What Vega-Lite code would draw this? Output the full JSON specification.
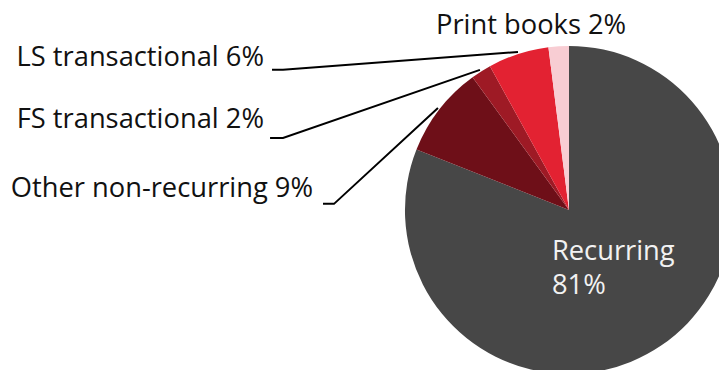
{
  "$schema": "https://vega.github.io/schema/vega-lite/v6.json",
  "width": 719,
  "height": 370,
  "autosize": {"type": "none"},
  "padding": 0,
  "background": "#ffffff",
  "view": {"stroke": null},
  "config": {"font": "Open Sans"},
  "datasets": {
    "slices": [
      {"segment": "Recurring", "share": 81, "ord": 1},
      {"segment": "Other non-recurring", "share": 9, "ord": 2},
      {"segment": "FS transactional", "share": 2, "ord": 3},
      {"segment": "LS transactional", "share": 6, "ord": 4},
      {"segment": "Print books", "share": 2, "ord": 5}
    ],
    "labels": [
      {"label": "LS transactional 6%", "u": -1.86, "v": 0.878, "side": "outside"},
      {"label": "FS transactional 2%", "u": -1.86, "v": 0.5, "side": "outside"},
      {"label": "Other non-recurring 9%", "u": -1.561, "v": 0.079, "side": "outside"},
      {"label": "Print books 2%", "u": -0.811, "v": 1.073, "side": "top"},
      {"label": "Recurring", "u": -0.104, "v": -0.305, "side": "inside"},
      {"label": "81%", "u": -0.104, "v": -0.512, "side": "inside"}
    ],
    "leaders": [
      {"id": "LS", "seq": 1, "u": -1.811, "v": 0.854},
      {"id": "LS", "seq": 2, "u": -1.744, "v": 0.854},
      {"id": "LS", "seq": 3, "u": -0.311, "v": 0.963},
      {"id": "FS", "seq": 1, "u": -1.823, "v": 0.439},
      {"id": "FS", "seq": 2, "u": -1.744, "v": 0.439},
      {"id": "FS", "seq": 3, "u": -0.543, "v": 0.854},
      {"id": "Other", "seq": 1, "u": -1.5, "v": 0.037},
      {"id": "Other", "seq": 2, "u": -1.433, "v": 0.037},
      {"id": "Other", "seq": 3, "u": -0.799, "v": 0.622}
    ]
  },
  "layer": [
    {
      "data": {"name": "slices"},
      "mark": {"type": "arc", "radius": 164},
      "encoding": {
        "x": {"datum": 0, "type": "quantitative", "scale": {"domain": [-3.47, 0.915], "nice": false, "zero": false}, "axis": null},
        "y": {"datum": 0, "type": "quantitative", "scale": {"domain": [-0.976, 1.28], "nice": false, "zero": false}, "axis": null},
        "theta": {"field": "share", "type": "quantitative", "stack": true},
        "order": {"field": "ord", "type": "quantitative"},
        "color": {
          "field": "segment",
          "type": "nominal",
          "legend": null,
          "scale": {
            "domain": ["Recurring", "Other non-recurring", "FS transactional", "LS transactional", "Print books"],
            "range": ["#474747", "#6e0f18", "#9e1a25", "#e32232", "#f8cdd3"]
          }
        }
      }
    },
    {
      "data": {"name": "leaders"},
      "mark": {"type": "line", "color": "#000000", "strokeWidth": 2},
      "encoding": {
        "x": {"field": "u", "type": "quantitative", "scale": {"domain": [-3.47, 0.915], "nice": false, "zero": false}, "axis": null},
        "y": {"field": "v", "type": "quantitative", "scale": {"domain": [-0.976, 1.28], "nice": false, "zero": false}, "axis": null},
        "detail": {"field": "id", "type": "nominal"},
        "order": {"field": "seq", "type": "quantitative"}
      }
    },
    {
      "data": {"name": "labels"},
      "transform": [{"filter": "datum.side === 'outside'"}],
      "mark": {"type": "text", "align": "right", "baseline": "alphabetic", "fontSize": 27.3, "color": "#111111"},
      "encoding": {
        "x": {"field": "u", "type": "quantitative", "scale": {"domain": [-3.47, 0.915], "nice": false, "zero": false}, "axis": null},
        "y": {"field": "v", "type": "quantitative", "scale": {"domain": [-0.976, 1.28], "nice": false, "zero": false}, "axis": null},
        "text": {"field": "label"}
      }
    },
    {
      "data": {"name": "labels"},
      "transform": [{"filter": "datum.side === 'top'"}],
      "mark": {"type": "text", "align": "left", "baseline": "alphabetic", "fontSize": 27.3, "color": "#111111"},
      "encoding": {
        "x": {"field": "u", "type": "quantitative", "scale": {"domain": [-3.47, 0.915], "nice": false, "zero": false}, "axis": null},
        "y": {"field": "v", "type": "quantitative", "scale": {"domain": [-0.976, 1.28], "nice": false, "zero": false}, "axis": null},
        "text": {"field": "label"}
      }
    },
    {
      "data": {"name": "labels"},
      "transform": [{"filter": "datum.side === 'inside'"}],
      "mark": {"type": "text", "align": "left", "baseline": "alphabetic", "fontSize": 27.3, "color": "#f2f2f2"},
      "encoding": {
        "x": {"field": "u", "type": "quantitative", "scale": {"domain": [-3.47, 0.915], "nice": false, "zero": false}, "axis": null},
        "y": {"field": "v", "type": "quantitative", "scale": {"domain": [-0.976, 1.28], "nice": false, "zero": false}, "axis": null},
        "text": {"field": "label"}
      }
    }
  ]
}
